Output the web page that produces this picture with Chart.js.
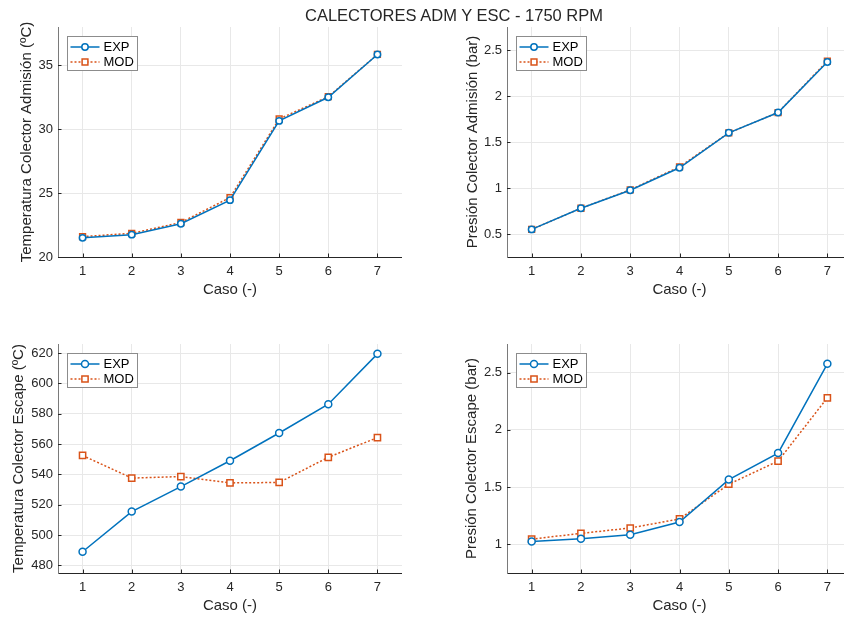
<!DOCTYPE html>
<html>
<head>
<meta charset="utf-8">
<title>Calectores ADM y ESC - 1750 RPM</title>
<script src="https://cdn.jsdelivr.net/npm/chart.js@4/dist/chart.umd.min.js"></script>
<style>
    html, body {
        margin: 0;
        padding: 0;
        background: #fff;
        width: 844px;
        height: 617px;
        overflow: hidden;
        position: relative;
    }
    .fig-title {
        position: absolute;
        left: 454px;
        top: 5px;
        transform: translateX(-50%);
        font-family: 'Liberation Sans', Arial, sans-serif;
        font-size: 16.5px;
        line-height: 20px;
        color: #262626;
        white-space: nowrap;
        z-index: 2;
    }
    .panel {
        position: absolute;
    }
</style>
</head>
<body>
<div class="fig-title">CALECTORES ADM Y ESC - 1750 RPM</div>
<!-- each canvas starts 15px above its plot area to leave room for the rotated y titles -->
<div class="panel" style="left:0px;top:12px;"><canvas id="tAdm" width="402" height="290"></canvas></div>
<div class="panel" style="left:449px;top:12px;"><canvas id="pAdm" width="403" height="290"></canvas></div>
<div class="panel" style="left:0px;top:329px;"><canvas id="tEsc" width="402" height="289"></canvas></div>
<div class="panel" style="left:449px;top:329px;"><canvas id="pEsc" width="403" height="289"></canvas></div>

<script>
// Casos de ensayo (también son las marcas del eje X)
const caso = [1, 2, 3, 4, 5, 6, 7];

// Temperatura colector admisión (ºC)
const tAdmExp = [21.5, 21.75, 22.6, 24.45, 30.65, 32.5, 35.85];
const tAdmMod = [21.6, 21.85, 22.7, 24.65, 30.8, 32.55, 35.85];
const tAdmTicks = [20, 25, 30, 35];

// Presión colector admisión (bar)
const pAdmExp = [0.55, 0.78, 0.975, 1.22, 1.6, 1.82, 2.37];
const pAdmMod = [0.55, 0.78, 0.98, 1.23, 1.6, 1.82, 2.38];
const pAdmTicks = [0.5, 1, 1.5, 2, 2.5];

// Temperatura colector escape (ºC)
const tEscExp = [489, 515.5, 532, 549, 567.3, 586.3, 619.5];
const tEscMod = [552.5, 537.6, 538.6, 534.4, 534.7, 551.3, 564.3];
const tEscTicks = [480, 500, 520, 540, 560, 580, 600, 620];

// Presión colector escape (bar)
const pEscExp = [1.026, 1.05, 1.085, 1.195, 1.566, 1.797, 2.577];
const pEscMod = [1.046, 1.096, 1.143, 1.222, 1.525, 1.727, 2.28];
const pEscTicks = [1, 1.5, 2, 2.5];

const BLUE = '#0072BD';
const ORANGE = '#D95319';
const TEXT = '#262626';
const FONT = "'Liberation Sans', Arial, sans-serif";

// Legend box drawn inside the plot area, top-left corner
const insetLegend = {
    id: 'insetLegend',
    afterDatasetsDraw(chart) {
        const { ctx, chartArea } = chart;
        const x0 = Math.round(chartArea.left + 9) + 0.5;
        const y0 = Math.round(chartArea.top + 9) + 0.5;
        const w = 70, h = 34;

        ctx.save();
        ctx.fillStyle = '#fff';
        ctx.fillRect(x0, y0, w, h);
        ctx.strokeStyle = '#8c8c8c';
        ctx.lineWidth = 1;
        ctx.strokeRect(x0, y0, w, h);

        chart.data.datasets.forEach((ds, i) => {
            const y = y0 + 10.5 + i * 15;
            ctx.strokeStyle = ds.borderColor;
            ctx.lineWidth = ds.borderWidth;
            ctx.setLineDash(ds.borderDash || []);
            ctx.beginPath();
            ctx.moveTo(x0 + 3, y);
            ctx.lineTo(x0 + 32, y);
            ctx.stroke();
            ctx.setLineDash([]);

            ctx.fillStyle = ds.pointBackgroundColor;
            ctx.lineWidth = ds.pointBorderWidth;
            Chart.helpers.drawPoint(ctx, {
                pointStyle: ds.pointStyle,
                radius: ds.pointRadius,
                borderWidth: ds.pointBorderWidth,
                rotation: 0
            }, x0 + 17.5, y);

            ctx.fillStyle = '#000';
            ctx.font = '13px ' + FONT;
            ctx.textBaseline = 'middle';
            ctx.textAlign = 'left';
            ctx.fillText(ds.label, x0 + 36, y + 0.5);
        });
        ctx.restore();
    }
};

// Short inward tick marks on the left and bottom axes
const innerTicks = {
    id: 'innerTicks',
    afterDraw(chart) {
        const { ctx, chartArea, scales } = chart;
        ctx.save();
        ctx.strokeStyle = TEXT;
        ctx.lineWidth = 1;
        ctx.beginPath();
        scales.y.ticks.forEach(t => {
            const py = Math.round(scales.y.getPixelForValue(t.value)) + 0.5;
            ctx.moveTo(chartArea.left, py);
            ctx.lineTo(chartArea.left + 3.5, py);
        });
        scales.x.ticks.forEach(t => {
            const px = Math.round(scales.x.getPixelForValue(t.value)) + 0.5;
            ctx.moveTo(px, chartArea.bottom);
            ctx.lineTo(px, chartArea.bottom - 3.5);
        });
        ctx.stroke();
        ctx.restore();
    }
};

function toPoints(values) {
    return caso.map((c, i) => ({ x: c, y: values[i] }));
}

function buildChart(id, expData, modData, yLabel, yMin, yMax, yTicks, yTitlePad, markerSize) {
    const ctx = document.getElementById(id);
    if (!ctx) return;

    new Chart(ctx, {
        type: 'line',
        data: {
            datasets: [{
                label: 'EXP',
                data: toPoints(expData),
                borderColor: BLUE,
                borderWidth: 1.5,
                pointStyle: 'circle',
                pointRadius: markerSize,
                pointBorderWidth: 1.5,
                pointBorderColor: BLUE,
                pointBackgroundColor: '#fff',
                clip: false
            }, {
                label: 'MOD',
                data: toPoints(modData),
                borderColor: ORANGE,
                borderWidth: 1.5,
                borderDash: [2, 2],
                pointStyle: 'rect',
                pointRadius: markerSize + 0.9,
                pointBorderWidth: 1.5,
                pointBorderColor: ORANGE,
                pointBackgroundColor: '#fff',
                clip: false
            }]
        },
        options: {
            responsive: false,
            animation: false,
            devicePixelRatio: 1,
            layout: { padding: { top: 15, left: 0, right: 0, bottom: 0 }, autoPadding: false },
            plugins: {
                legend: { display: false },
                tooltip: { enabled: false }
            },
            scales: {
                x: {
                    type: 'linear',
                    min: 0.5,
                    max: 7.5,
                    afterBuildTicks(scale) {
                        scale.ticks = caso.map(v => ({ value: v }));
                    },
                    afterFit(scale) {
                        scale.height = 45;
                        scale.paddingLeft = 0;
                        scale.paddingRight = 0;
                    },
                    ticks: {
                        padding: 7,
                        color: TEXT,
                        font: { family: FONT, size: 13 }
                    },
                    grid: { color: '#e8e8e8', drawTicks: false },
                    border: { display: true, color: TEXT, width: 1 },
                    title: {
                        display: true,
                        text: 'Caso (-)',
                        color: TEXT,
                        font: { family: FONT, size: 15 },
                        padding: { top: 0, bottom: 3 }
                    }
                },
                y: {
                    type: 'linear',
                    min: yMin,
                    max: yMax,
                    afterBuildTicks(scale) {
                        scale.ticks = yTicks.map(v => ({ value: v }));
                    },
                    afterFit(scale) {
                        scale.width = 58;
                        scale.paddingTop = 0;
                        scale.paddingBottom = 0;
                    },
                    ticks: {
                        padding: 5,
                        color: TEXT,
                        font: { family: FONT, size: 13 },
                        callback: v => String(v)
                    },
                    grid: { color: '#e8e8e8', drawTicks: false },
                    border: { display: true, color: '#7a7a7a', width: 1 },
                    title: {
                        display: true,
                        text: yLabel,
                        color: TEXT,
                        font: { family: FONT, size: 15 },
                        padding: { top: yTitlePad, bottom: 0 }
                    }
                }
            }
        },
        plugins: [innerTicks, insetLegend]
    });
}

document.addEventListener('DOMContentLoaded', function() {
    buildChart('tAdm', tAdmExp, tAdmMod, 'Temperatura Colector Admisión (ºC)', 20, 38, tAdmTicks, 17.7, 3.2);
    buildChart('pAdm', pAdmExp, pAdmMod, 'Presión Colector Admisión (bar)', 0.25, 2.75, pAdmTicks, 15, 3.2);
    buildChart('tEsc', tEscExp, tEscMod, 'Temperatura Colector Escape (ºC)', 475, 626, tEscTicks, 10, 3.5);
    buildChart('pEsc', pEscExp, pEscMod, 'Presión Colector Escape (bar)', 0.75, 2.75, pEscTicks, 13.4, 3.5);
});
</script>
</body>
</html>
